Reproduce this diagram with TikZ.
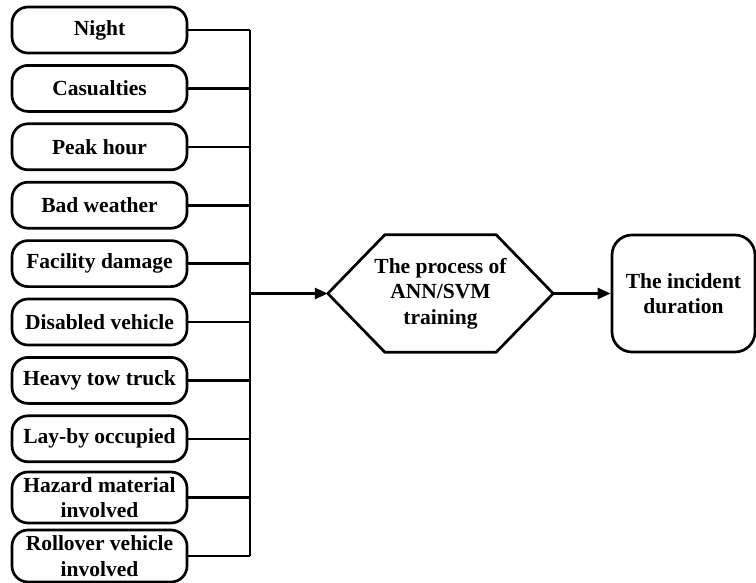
\documentclass[tikz,border=0pt]{standalone}
\usepackage{fontspec}
\setmainfont{Liberation Serif}
\usetikzlibrary{arrows.meta,calc}

\begin{document}
\begin{tikzpicture}[x=1pt,y=-1pt,>={Triangle[length=13pt,width=11pt]},line join=round,
    font=\bfseries\fontsize{21.5}{25.5}\selectfont,
    factor/.style={draw,line width=2.7pt,rounded corners=16pt,minimum width=175pt,
        minimum height=46pt,inner sep=0pt,align=center},
    wire/.style={line width=2.6pt}]
  \useasboundingbox (0,0) rectangle (756,582);
% ================= input factors =================
  \foreach \i/\l in {1/Night,2/Casualties,3/Peak hour,4/Bad weather,
      5/Facility damage,6/Disabled vehicle,7/Heavy tow truck,8/Lay-by occupied}{
      \node[factor] (f\i) at (99.5,{30+58.4*(\i-1)}) {\l};}
  \node[factor,minimum height=51pt] (f9)  at (99.5,497.5) {Hazard material\\involved};
  \node[factor,minimum height=52pt] (f10) at (99.5,556)   {Rollover vehicle\\involved};
  % collecting bus
  \coordinate (bustop) at (250,30);
  \coordinate (busbot) at (250,556);
  \draw[wire] (bustop) -- (busbot);
  \foreach \i in {1,...,10}{
      \draw[wire] (f\i.east) -- (f\i.east -| bustop);}
% ================= training and output =================
  \node[minimum width=225pt,minimum height=117pt,inner sep=0pt,align=center] (proc)
      at (440.5,293.5) {The process of\\ANN/SVM\\training};
  \draw[line width=2.7pt] (proc.west) -- ($(proc.north west)+(57,0)$)
      -- ($(proc.north east)+(-57,0)$) -- (proc.east)
      -- ($(proc.south east)+(-57,0)$) -- ($(proc.south west)+(57,0)$) -- cycle;
  \node[draw,line width=2.7pt,rounded corners=20pt,minimum width=143pt,
      minimum height=117pt,align=center] (dur) at (683.5,293.5)
      {The incident\\duration};
  \draw[wire,->] (proc.west -| bustop) -- (proc.west);
  \draw[wire,->] (proc.east) -- (dur.west);
\end{tikzpicture}
\end{document}
